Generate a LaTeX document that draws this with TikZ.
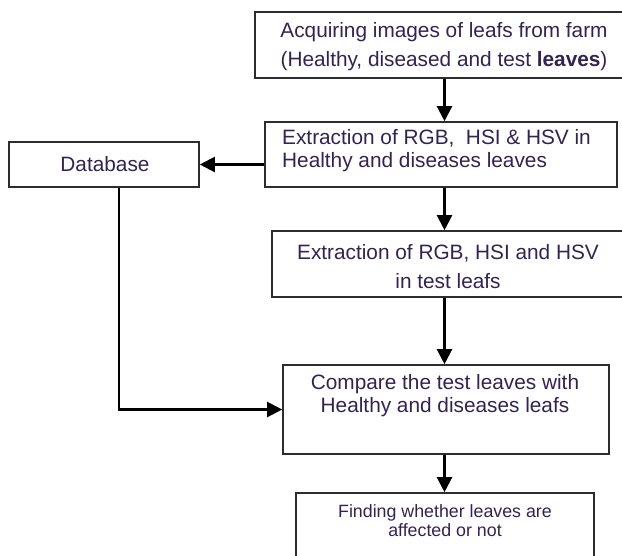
\documentclass[tikz,border=0pt]{standalone}
\usepackage{fontspec}
\setmainfont{Liberation Sans}
\usetikzlibrary{arrows.meta}
\definecolor{textc}{RGB}{50,35,80}
\definecolor{boxline}{RGB}{45,45,45}
\tikzset{
  box/.style={draw=boxline, line width=1.6pt, inner sep=0pt},
  txt/.style={text=textc, inner sep=0pt, align=center, font=\fontsize{20.8}{23}\selectfont},
  arr/.style={-{Triangle[width=15pt,length=15pt]}, line width=2.2pt},
}
\begin{document}
\begin{tikzpicture}[x=1pt, y=-1pt]
  \useasboundingbox (0,0) rectangle (622,555);
  \clip (0,0) rectangle (622,555);

  \node[box, minimum width=379pt, minimum height=66pt] (acq) at (444.5,45) {};
  \node[box, minimum width=352pt, minimum height=65pt] (rgbdb) at (441,154.5) {};
  \node[box, minimum width=190pt, minimum height=45pt] (db) at (104,164.5) {};
  \node[box, minimum width=352pt, minimum height=66pt] (rgbtest) at (448,264) {};
  \node[box, minimum width=326pt, minimum height=89pt] (cmp) at (446,409.5) {};
  \node[box, minimum width=298pt, minimum height=90pt] (find) at (445,538) {};

  \node[txt] (acqtxt) at (444,46.5) {Acquiring images of leafs from farm\\[6pt](Healthy, diseased and test \textbf{leaves})};
  \node[txt, align=left, anchor=west] (rgbdbtxt) at (282,151) {Extraction of RGB,\ \ HSI \& HSV in\\Healthy and diseases leaves};
  \node[txt] (dbtxt) at (105,164) {Database};
  \node[txt] (rgbtesttxt) at (448,267) {Extraction of RGB, HSI and HSV\\[6pt]in test leafs};
  \node[txt] (cmptxt) at (445,396) {Compare the test leaves with\\Healthy and diseases leafs};
  \node[txt, font=\fontsize{17.8}{19}\selectfont] (findtxt) at (445,521) {Finding whether leaves are\\affected or not};

  \draw[arr] (acq.south) -- (acq.south |- rgbdb.north);
  \draw[arr] (rgbdb.west |- db.east) -- (db.east);
  \draw[arr] (rgbdb.south -| acq) -- (rgbtest.north -| acq);
  \draw[arr] (rgbtest.south -| acq) -- (cmp.north -| acq);
  \draw[arr] ([xshift=15pt]db.south) |- (cmp.west);
  \draw[arr] (cmp.south -| acq) -- (find.north -| acq);
\end{tikzpicture}
\end{document}
